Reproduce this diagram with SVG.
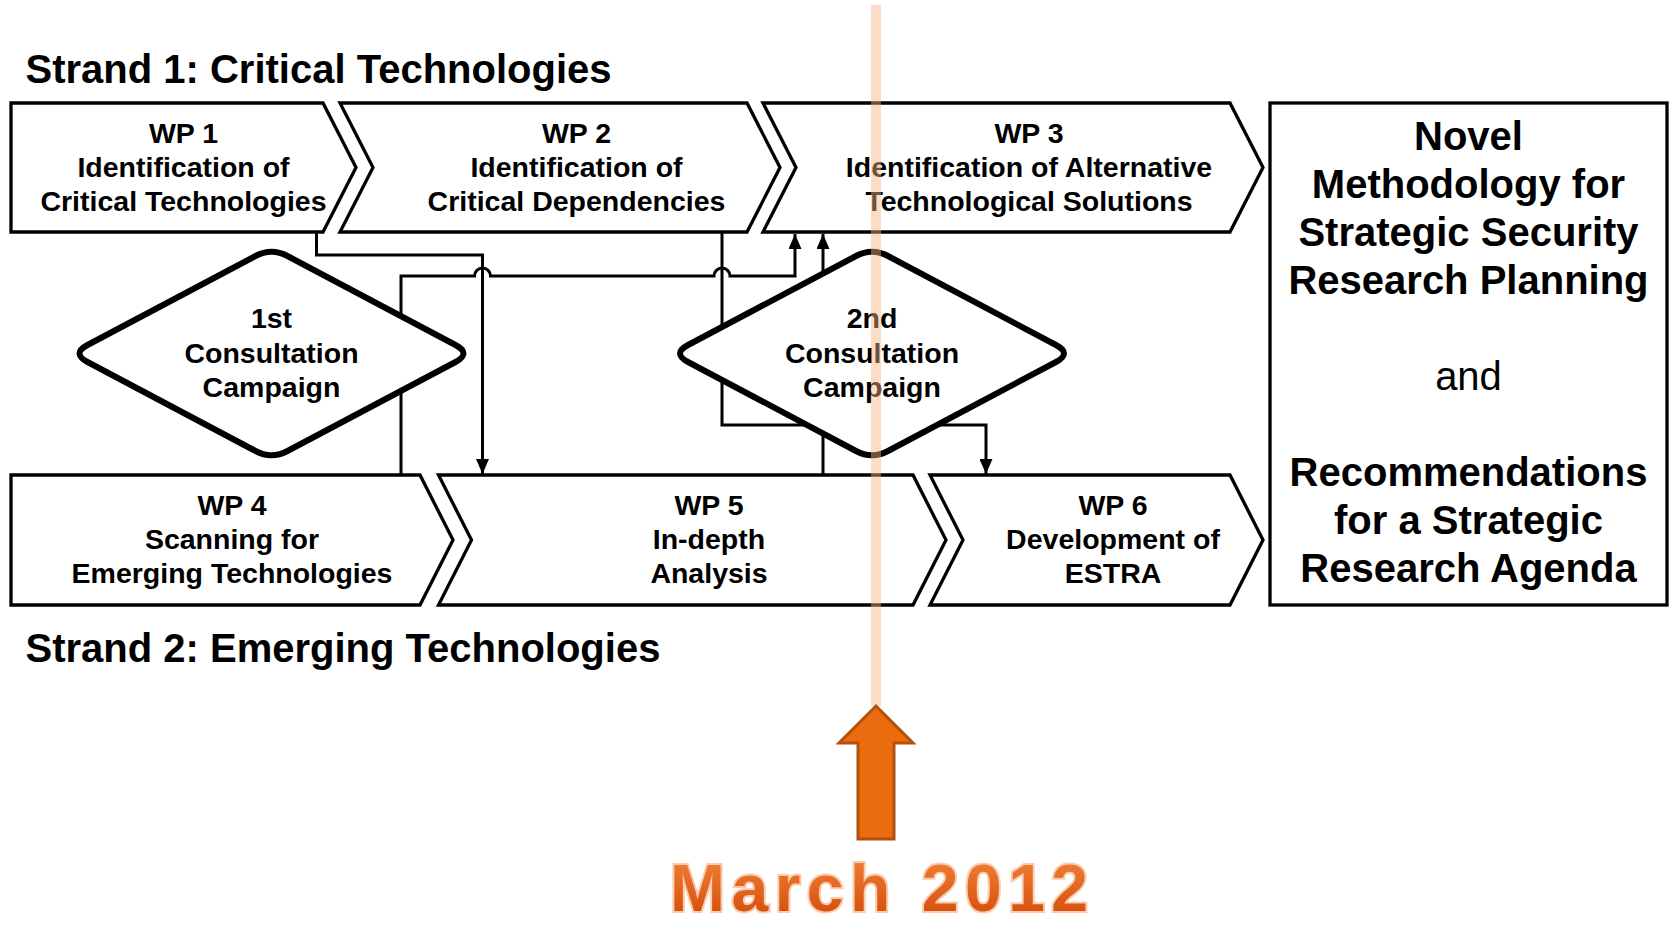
<svg xmlns="http://www.w3.org/2000/svg" width="1669" height="928" viewBox="0 0 1669 928">
<style>
text{font-family:"Liberation Sans",Arial,sans-serif;fill:#000}
.wp{fill:#fff;stroke:#000;stroke-width:3.3;stroke-linejoin:miter}
.dm{fill:#fff;stroke:#000;stroke-width:6;stroke-linejoin:round}
.t{font-size:28.5px;font-weight:bold;text-anchor:middle}
.h{font-size:40px;font-weight:bold}
.r{font-size:40px;font-weight:bold;text-anchor:middle}
.cn{fill:none;stroke:#000;stroke-width:3}
</style>
<defs>
<marker id="ah" viewBox="0 0 15 13" refX="15" refY="6.5" markerWidth="15" markerHeight="13" orient="auto" markerUnits="userSpaceOnUse">
<path d="M0,0 L15,6.5 L0,13 Z" fill="#000"/>
</marker>
<path id="dia" d="M16,-97.5 L184,-8.5 Q200,0 184,8.5 L16,97.5 Q0,106 -16,97.5 L-184,8.5 Q-200,0 -184,-8.5 L-16,-97.5 Q0,-106 16,-97.5 Z"/>
<linearGradient id="og" x1="0" y1="0" x2="0" y2="1">
<stop offset="0" stop-color="#F5843C"/>
<stop offset="1" stop-color="#D04805"/>
</linearGradient>
</defs>
<rect width="1669" height="928" fill="#fff"/>
<text class="h" x="25.5" y="83">Strand 1: Critical Technologies</text>
<text class="h" x="25.5" y="662">Strand 2: Emerging Technologies</text>
<g id="connectors">
<path class="cn" d="M316.5,232 V255 H482.5 V474" marker-end="url(#ah)"/>
<path class="cn" d="M401,475 V276 H474.5 A8,8 0 0 1 490.5,276 H714 A8,8 0 0 1 730,276 H795 V234" marker-end="url(#ah)"/>
<path class="cn" d="M722,232 V425 H986 V474" marker-end="url(#ah)"/>
<path class="cn" d="M823,475 V234" marker-end="url(#ah)"/>
</g>
<g id="wp1">
<path class="wp" d="M11,103 H323 L356,167.5 L323,232 H11 Z"/>
<text class="t" x="183.5" y="142.5">WP 1</text>
<text class="t" x="183.5" y="177">Identification of</text>
<text class="t" x="183.5" y="211">Critical Technologies</text>
</g>
<g id="wp2">
<path class="wp" d="M340,103 H747 L780,167.5 L747,232 H340 L373,167.5 Z"/>
<text class="t" x="576.5" y="142.5">WP 2</text>
<text class="t" x="576.5" y="177">Identification of</text>
<text class="t" x="576.5" y="211">Critical Dependencies</text>
</g>
<g id="wp3">
<path class="wp" d="M763,103 H1230 L1263,167.5 L1230,232 H763 L796,167.5 Z"/>
<text class="t" x="1029" y="142.5">WP 3</text>
<text class="t" x="1029" y="177">Identification of Alternative</text>
<text class="t" x="1029" y="211">Technological Solutions</text>
</g>
<g id="result">
<rect class="wp" x="1270" y="103" width="397" height="502"/>
<text class="r" x="1468.5" y="150">Novel</text>
<text class="r" x="1468.5" y="198">Methodology for</text>
<text class="r" x="1468.5" y="246">Strategic Security</text>
<text class="r" x="1468.5" y="294">Research Planning</text>
<text class="r" x="1468.5" y="390" style="font-weight:normal">and</text>
<text class="r" x="1468.5" y="486">Recommendations</text>
<text class="r" x="1468.5" y="534">for a Strategic</text>
<text class="r" x="1468.5" y="582">Research Agenda</text>
</g>
<g id="wp4">
<path class="wp" d="M11,475 H420 L453,540 L420,605 H11 Z"/>
<text class="t" x="232" y="514.5">WP 4</text>
<text class="t" x="232" y="549">Scanning for</text>
<text class="t" x="232" y="583">Emerging Technologies</text>
</g>
<g id="wp5">
<path class="wp" d="M438.5,475 H913 L946,540 L913,605 H438.5 L471.5,540 Z"/>
<text class="t" x="709" y="514.5">WP 5</text>
<text class="t" x="709" y="549">In-depth</text>
<text class="t" x="709" y="583">Analysis</text>
</g>
<g id="wp6">
<path class="wp" d="M930,475 H1230 L1263,540 L1230,605 H930 L963,540 Z"/>
<text class="t" x="1113" y="514.5">WP 6</text>
<text class="t" x="1113" y="549">Development of</text>
<text class="t" x="1113" y="583">ESTRA</text>
</g>
<g id="cc1">
<use href="#dia" class="dm" transform="translate(271.5,353.5)"/>
<text class="t" x="271.5" y="328">1st</text>
<text class="t" x="271.5" y="362.5">Consultation</text>
<text class="t" x="271.5" y="396.5">Campaign</text>
</g>
<g id="cc2">
<use href="#dia" class="dm" transform="translate(872,353.5)"/>
<text class="t" x="872" y="328">2nd</text>
<text class="t" x="872" y="362.5">Consultation</text>
<text class="t" x="872" y="396.5">Campaign</text>
</g>
<g id="milestone">
<rect x="871" y="5" width="10" height="701" fill="#F4B183" opacity="0.45"/>
<path d="M876,706 L913,743 L894,743 L894,839 L858,839 L858,743 L839,743 Z" fill="#EB6C0E" stroke="#B5500A" stroke-width="3"/>
<text x="670" y="911" font-size="66" font-weight="bold" letter-spacing="6.5" stroke="#FBCDB0" stroke-width="4" paint-order="stroke" style="fill:url(#og)">March 2012</text>
</g>
</svg>
